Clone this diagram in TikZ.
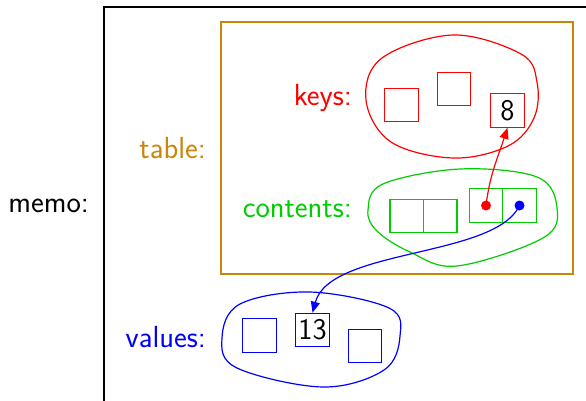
\documentclass[tikz,border=0pt]{standalone}
\usepackage{fontspec}
\usetikzlibrary{arrows.meta}
\definecolor{tablecol}{RGB}{200,134,10}
\definecolor{grn}{RGB}{0,205,0}
\definecolor{rd}{RGB}{255,0,0}
\definecolor{bl}{RGB}{0,0,255}
\begin{document}
\begin{tikzpicture}[x=1pt,y=-1pt,
  lbl/.style={anchor=base east,inner sep=0pt,font=\fontsize{30.5}{36}\selectfont\sffamily},
  cell/.style={draw,minimum size=33.5pt,inner sep=0pt,line width=1.1pt,font=\fontsize{30}{36}\selectfont\sffamily},
  blob/.style={line width=1.2pt},
  dotm/.style={circle,fill,inner sep=0pt,minimum size=10pt},
  arr/.style={line width=1.2pt,-{Triangle[length=11pt,width=9pt]}}]
\clip (0,0) rectangle (586,400);
\fill[white] (0,0) rectangle (586,400);
% outer memo box
\draw[line width=1.4pt] (104,7) rectangle (620,430);
\node[lbl] (memo) at (89,212) {memo:};
% table box
\draw[tablecol,line width=1.2pt] (221,22) rectangle (573,274);
\node[lbl,text=tablecol] (table) at (206,158) {table:};
% keys
\node[lbl,text=rd] (keys) at (352,105) {keys:};
\draw[rd,blob] plot[smooth cycle,tension=0.6] coordinates {(366,100) (382,58) (453,35) (521,54) (537,82) (534,118) (508,146) (453,158) (391,142)};
\node[cell,draw=rd] (k1) at (401.5,105) {};
\node[cell,draw=rd] (k2) at (454,89) {};
\node[cell,draw=rd] (k3) at (507.5,110.5) {8};
% contents
\node[lbl,text=grn] (contents) at (352,217) {contents:};
\draw[grn,blob] plot[smooth cycle,tension=0.6] coordinates {(368,210) (383,184) (460,169) (537,177) (557,208) (543,238) (457,266) (410,252) (377,231)};
\node[cell,draw=grn] (c1) at (406.75,216) {};
\node[cell,draw=grn] (c2) at (440.25,216) {};
\node[cell,draw=grn] (c3) at (486,205.5) {};
\node[cell,draw=grn] (c4) at (519.5,205.5) {};
\node[dotm,rd] (rdot) at (c3.center) {};
\node[dotm,bl] (bdot) at (c4.center) {};
% values
\node[lbl,text=bl] (values) at (206,347) {values:};
\draw[bl,blob] plot[smooth cycle,tension=0.6] coordinates {(222,338) (240,304) (310,292) (389,308) (400,336) (384,370) (323,387) (237,368)};
\node[cell,draw=bl] (v1) at (259.5,335.5) {};
\node[cell,draw=bl] (v2) at (312.5,330) {13};
\node[cell,draw=bl] (v3) at (365,346) {};
% arrows
\draw[arr,rd] (rdot.center) to[out=83,in=-108] (k3.south);
\draw[arr,bl] (bdot.center) .. controls (495,258) and (330,248) .. (v2.north);
\end{tikzpicture}
\end{document}
